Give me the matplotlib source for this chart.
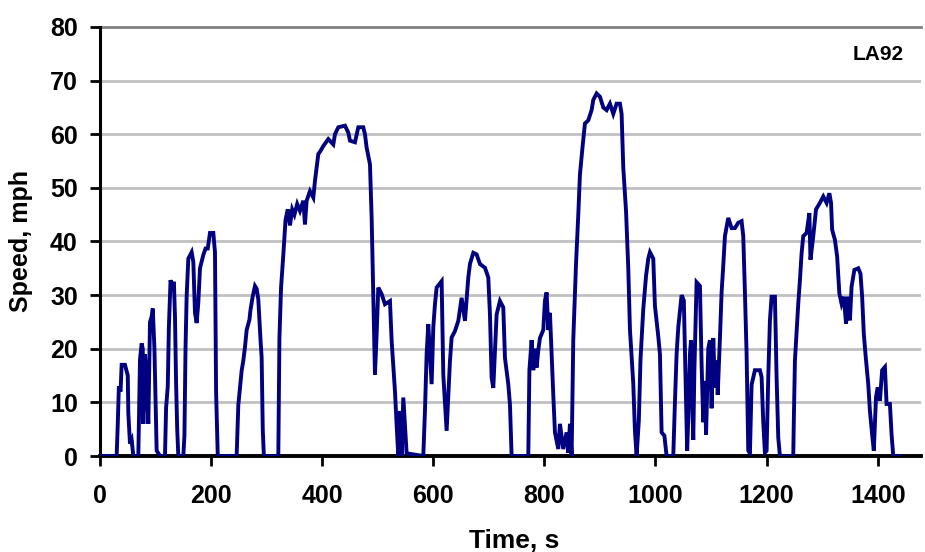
import matplotlib
matplotlib.use("Agg")
import matplotlib.pyplot as plt

# LA92 driving cycle, speed trace (s, mph)
time_s = [0, 30, 32, 34, 37, 39, 45, 50, 51, 54, 57, 60, 69, 70, 72, 75, 77, 78, 81, 84, 87, 90, 93, 95, 98,
          102, 108, 117, 119, 122, 124, 127, 131, 133, 135, 137, 139, 141, 150, 152, 154, 156, 159, 165, 168,
          171, 174, 177, 180, 186, 190, 194, 198, 204, 207, 209, 212, 246, 249, 255, 258, 261, 264, 269, 271,
          275, 279, 282, 285, 289, 291, 293, 295, 321, 323, 326, 330, 334, 338, 342, 346, 350, 355,
          360, 366, 369, 372, 378, 384, 387, 393, 397, 402, 411, 420, 423, 429, 441, 447, 450, 459, 465, 474,
          477, 480, 486, 489, 492, 495, 498, 501, 507, 513, 522, 525, 531, 534, 537, 540, 543, 546, 552, 582,
          585, 588, 591, 597, 600, 603, 606, 615, 618, 624, 630, 633, 639, 645, 651, 657, 663, 666, 672, 678,
          684, 693, 699, 702, 705, 708, 714, 720, 726, 729, 735, 738, 741, 771,
          773, 777, 780, 783, 786, 789, 792, 798, 801, 804, 807, 810, 813, 816, 819, 825, 828, 834, 840, 843,
          846, 849, 852, 857, 861, 864, 869, 873, 879, 885, 888, 894, 900, 906, 912, 918, 924, 930, 936, 939,
          942, 947, 951, 954, 960, 963, 966, 970, 973, 978, 983, 987, 990, 996, 999, 1005, 1008, 1011, 1016,
          1020, 1032, 1035, 1038, 1041, 1047, 1051, 1054, 1057, 1059, 1062, 1064, 1066, 1068, 1070, 1074,
          1080, 1083, 1086, 1089, 1091, 1095, 1098, 1101, 1104, 1107, 1110, 1112, 1116, 1119, 1122, 1125,
          1131, 1137, 1143, 1149, 1155, 1158, 1161, 1164, 1167, 1170, 1173, 1179, 1185, 1188, 1191, 1194,
          1197, 1200, 1203, 1206, 1209, 1215, 1218, 1221, 1224, 1248, 1249, 1251, 1257, 1260, 1263, 1266,
          1272, 1277, 1279, 1284, 1289, 1296, 1302, 1308, 1313, 1316, 1318, 1323, 1327, 1331, 1335, 1339,
          1343, 1346, 1350, 1353, 1358, 1365, 1369, 1372, 1375, 1378, 1383, 1386, 1390, 1393, 1397, 1400,
          1404, 1408, 1413, 1416, 1422, 1425, 1428, 1440]
speed_mph = [0, 0, 6, 13, 12, 17, 17, 15, 8, 2.3, 3, 0, 0, 6, 18, 21, 20, 6, 19, 14, 6, 25, 26, 27.5, 20,
             1, 0, 0, 9, 13, 24, 32.8, 31, 32.5, 26, 13.5, 5, 0, 0, 3.8, 20.3, 29.8, 36.8, 38, 36.2,
             26.7, 24.8, 28.6, 35, 37.5, 38.7, 38.7, 41.6, 41.6, 38, 12, 0, 0, 9.5, 15.9, 17.8, 20.3, 23.5,
             25.4, 27.3, 29.8, 31.7, 31.2, 29.2, 21.6, 18.4, 5, 0, 0, 22, 31.5, 37.5, 44, 46, 43, 46, 45, 47,
             45.7, 47.6, 43.2, 47.6, 49.4, 48.2, 51.3, 56.3, 56.9, 57.8, 59.1, 58.1, 60, 61.3, 61.6, 60.3, 58.8,
             58.5, 61.3, 61.3, 60, 57.5, 54.4, 44.5, 30.2, 15.2, 22.7, 31.4, 30.2, 28.3, 28.9, 21.5, 12.1, 5.8,
             0, 8.4, 0, 10.9, 0.5, 0, 8.4, 19, 24.6, 13.4, 24, 28.3, 31.4, 32.6, 15.2, 4.7, 17.7, 22.1, 23.3,
             25.2, 29.5, 25.2, 33.3, 35.8, 37.9, 37.6, 35.8, 35.1, 33.3, 26.4, 14.6, 12.7, 26.4, 28.9, 27.7,
             18.3, 13.4, 9.6, 0, 0,
             16, 21.6, 16, 20, 16.5, 19.7, 22, 23.5, 29, 30.5, 23.5, 26.7, 19, 11.4, 4.4, 1.3, 6, 1.3, 4.4, 0.6,
             6, 0, 21.7, 36, 45, 52.5, 58, 62, 62.6, 64.5, 66.4, 67.6, 67, 65, 64.5, 65.7, 63.8, 65.7, 65.7,
             63.8, 53.8, 45.6, 35, 23.6, 13.5, 4.7, 0, 6.6, 18, 27.4, 33.6, 36.8, 38, 36.8, 28, 22.3, 19, 4.4,
             3.8, 0, 0, 10, 19, 24, 30, 29, 15, 1, 7, 19, 21.6, 11, 3, 16, 32.4,
             31.7, 17, 6.3, 14, 4, 20, 21.6, 8.9, 22, 12.7, 17.8, 11.4, 22, 30.5, 35.5, 41,
             44.4, 42.5, 42.5, 43.5, 43.8, 41, 30.5, 19, 1, 0.5, 13.3, 16, 16, 16, 14.7, 6.3,
             0.6, 1, 14.7, 25.3, 29.7, 29.7, 14.7, 3.4, 0, 0, 6.6, 17.8, 28.4, 32.8, 37.8, 41,
             41.6, 45.3, 36.6, 41, 46, 47.2, 48.4, 47.2, 49, 47.2, 42.2, 40.3, 37.2, 30.3, 28.4, 29.7,
             24.7, 29.7, 25.3, 31.6, 34.7, 35, 34, 29.7, 22.8, 19, 13.4, 8.4, 4, 1, 11, 12.8,
             10.3, 16, 16.6, 9.7, 9.7, 4, 0, 0]

x_ticks = [0, 200, 400, 600, 800, 1000, 1200, 1400]
y_ticks = [0, 10, 20, 30, 40, 50, 60, 70, 80]

plt.rcParams['font.family'] = ['Liberation Sans', 'DejaVu Sans']

fig = plt.figure(figsize=(9.25, 5.52), dpi=100)
ax = fig.add_axes([0.1081, 0.1739, 0.8876, 0.7772])

# drawn above the axis line so the standstill parts stay visible
ax.plot(time_s, speed_mph, color='#000080', linewidth=2.8, solid_joinstyle='miter', zorder=3)

ax.set_xlim(0, 1478)
ax.set_ylim(0, 80)
ax.set_xticks(x_ticks)
ax.set_yticks(y_ticks)
ax.tick_params(axis='both', direction='out', length=7, width=2, labelsize=18)
ax.tick_params(axis='x', pad=13)
ax.tick_params(axis='y', pad=9)
for lbl in ax.get_xticklabels() + ax.get_yticklabels():
    lbl.set_fontweight('bold')

# horizontal grid, top line a bit darker
for v in y_ticks[1:-1]:
    ax.axhline(v, color='#c0c0c0', linewidth=2, zorder=0)
ax.axhline(80, color='#808080', linewidth=2, zorder=0, clip_on=False)

for side in ['top', 'right']:
    ax.spines[side].set_visible(False)
ax.spines['left'].set_linewidth(2.2)
ax.spines['bottom'].set_linewidth(2.8)

ax.set_xlabel('Time, s', fontsize=19, fontweight='bold', va='center')
ax.xaxis.set_label_coords(0.505, -0.198)
ax.set_ylabel('Speed, mph', fontsize=18, fontweight='bold', va='center')
ax.yaxis.set_label_coords(-0.096, 0.5)
ax.text(0.9795, 0.935, 'LA92', transform=ax.transAxes, ha='right', va='center',
        fontsize=15, fontweight='bold')

fig.savefig('out.png', dpi=100)
